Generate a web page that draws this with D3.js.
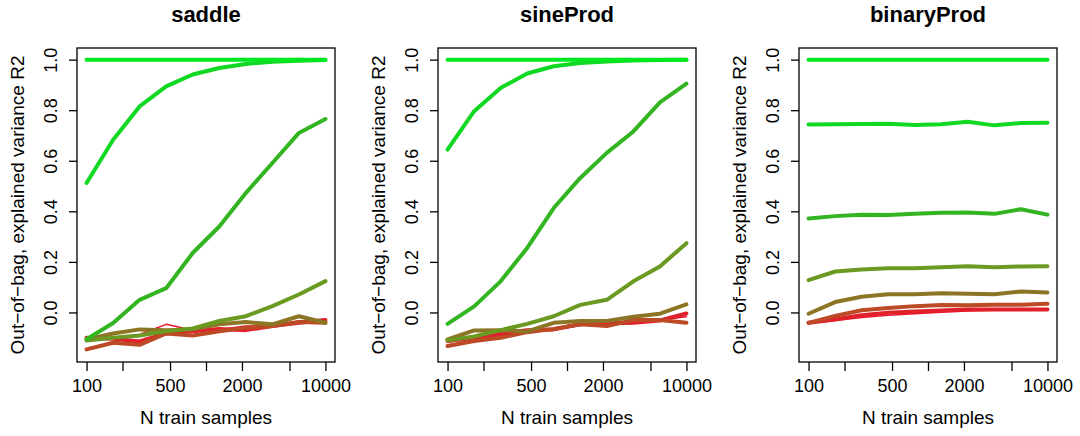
<!DOCTYPE html>
<html>
<head>
<meta charset="utf-8">
<style>
  body { margin: 0; background: #fff; }
  svg text { font-family: "Liberation Sans", Arial, Helvetica, sans-serif; fill: #000; }
</style>
</head>
<body>
<svg id="chart" width="1080" height="436"></svg>
<script src="https://cdnjs.cloudflare.com/ajax/libs/d3/7.8.5/d3.min.js"></script>
<script>
// training sizes: 10 log-spaced steps from 100 to 10000
const nSamples = [100, 167, 278, 464, 774, 1292, 2154, 3594, 5995, 10000];
const panelNames = ["saddle", "sineProd", "binaryProd"];
const yTicks = [0, 0.2, 0.4, 0.6, 0.8, 1.0];
const xTicks = [100, 200, 500, 1000, 2000, 5000, 10000];
const xLabels = [100, 500, 2000, 10000];

// series colours from red to green, in drawing order
const seriesColors = ["#ee1430", "#e0202a", "#bb4a25", "#8c7626", "#6a9a22", "#33b522", "#11d822", "#00e820"];
const seriesWidths = [1.5, 4, 4, 4, 4, 4, 4, 4];

const saddle = [
  [-0.100, -0.100, -0.087, -0.047, -0.070, -0.067, -0.054, -0.054, -0.034, -0.027],
  [-0.100, -0.104, -0.115, -0.083, -0.074, -0.065, -0.070, -0.054, -0.041, -0.030],
  [-0.146, -0.120, -0.128, -0.083, -0.091, -0.074, -0.061, -0.054, -0.038, -0.041],
  [-0.107, -0.083, -0.067, -0.070, -0.067, -0.047, -0.038, -0.047, -0.015, -0.041],
  [-0.111, -0.100, -0.091, -0.074, -0.063, -0.034, -0.015, 0.025, 0.071, 0.124],
  [-0.106, -0.042, 0.050, 0.096, 0.235, 0.340, 0.472, 0.591, 0.710, 0.765],
  [0.512, 0.683, 0.815, 0.894, 0.941, 0.967, 0.983, 0.992, 0.996, 0.999],
  [1.0, 1.0, 1.0, 1.0, 1.0, 1.0, 1.0, 1.0, 1.0, 1.0]
];
const sineProd = [
  [-0.117, -0.104, -0.091, -0.074, -0.070, -0.051, -0.047, -0.043, -0.030, -0.017],
  [-0.113, -0.100, -0.083, -0.070, -0.067, -0.047, -0.043, -0.041, -0.032, -0.004],
  [-0.133, -0.113, -0.100, -0.078, -0.065, -0.047, -0.054, -0.030, -0.030, -0.041],
  [-0.107, -0.071, -0.070, -0.075, -0.041, -0.034, -0.034, -0.017, -0.005, 0.032],
  [-0.111, -0.095, -0.070, -0.045, -0.015, 0.030, 0.050, 0.123, 0.182, 0.274],
  [-0.045, 0.024, 0.123, 0.255, 0.413, 0.532, 0.631, 0.716, 0.831, 0.905],
  [0.644, 0.796, 0.888, 0.945, 0.974, 0.987, 0.993, 0.997, 0.999, 1.0],
  [1.0, 1.0, 1.0, 1.0, 1.0, 1.0, 1.0, 1.0, 1.0, 1.0]
];
const binaryProd = [
  [-0.041, -0.032, -0.020, -0.011, -0.005, 0.001, 0.006, 0.009, 0.010, 0.011],
  [-0.041, -0.028, -0.011, -0.001, 0.004, 0.008, 0.012, 0.012, 0.012, 0.012],
  [-0.041, -0.014, 0.009, 0.018, 0.025, 0.029, 0.028, 0.030, 0.030, 0.034],
  [-0.005, 0.041, 0.062, 0.072, 0.072, 0.076, 0.074, 0.072, 0.083, 0.079],
  [0.128, 0.162, 0.170, 0.175, 0.175, 0.179, 0.183, 0.179, 0.182, 0.183],
  [0.372, 0.381, 0.386, 0.385, 0.390, 0.394, 0.395, 0.390, 0.408, 0.387],
  [0.743, 0.744, 0.745, 0.746, 0.741, 0.744, 0.754, 0.740, 0.749, 0.750],
  [1.0, 1.0, 1.0, 1.0, 1.0, 1.0, 1.0, 1.0, 1.0, 1.0]
];
const panelData = [saddle, sineProd, binaryProd];

const svg = d3.select("#chart");
const boxTop = 48, boxBottom = 362;

panelNames.forEach(function(name, i) {
  const left = 360 * i + 77 + i;
  const right = left + 258;
  const g = svg.append("g");

  // R-style 4% extension of the ranges
  const x = d3.scaleLog().domain([Math.pow(10, 1.92), Math.pow(10, 4.08)]).range([left, right]);
  const y = d3.scaleLinear().domain([-0.196, 1.046]).range([boxBottom, boxTop]);

  const line = d3.line().x((d, k) => x(nSamples[k])).y(d => y(d));

  g.selectAll("path.series")
    .data(panelData[i])
    .enter().append("path")
    .attr("class", "series")
    .attr("d", line)
    .attr("fill", "none")
    .attr("stroke", (d, k) => seriesColors[k])
    .attr("stroke-width", (d, k) => seriesWidths[k])
    .attr("stroke-linejoin", "round")
    .attr("stroke-linecap", "round");

  g.append("rect")
    .attr("x", left).attr("y", boxTop)
    .attr("width", right - left).attr("height", boxBottom - boxTop)
    .attr("fill", "none").attr("stroke", "#000").attr("stroke-width", 1.3);

  // x axis
  const xa = g.append("g").attr("transform", "translate(0," + boxBottom + ")")
    .call(d3.axisBottom(x).tickValues(xTicks).tickSize(9).tickFormat(d => xLabels.includes(d) ? d : ""));
  xa.select(".domain").remove();
  xa.selectAll("line").attr("stroke", "#000").attr("stroke-width", 1.3);
  xa.selectAll("text").attr("font-size", 18).attr("y", 17).attr("dy", "0.71em")
    .style("font-family", "'Liberation Sans', Arial, sans-serif");

  // y axis
  const ya = g.append("g").attr("transform", "translate(" + left + ",0)")
    .call(d3.axisLeft(y).tickValues(yTicks).tickSize(8).tickFormat(d3.format(".1f")));
  ya.select(".domain").remove();
  ya.selectAll("line").attr("stroke", "#000").attr("stroke-width", 1.3);
  ya.selectAll("text")
    .attr("x", null)
    .attr("font-size", 18)
    .attr("text-anchor", "middle")
    .attr("transform", "translate(-26,0) rotate(-90)")
    .attr("dy", "0.35em")
    .style("font-family", "'Liberation Sans', Arial, sans-serif");

  g.append("text")
    .attr("x", (left + right) / 2).attr("y", 22)
    .attr("text-anchor", "middle")
    .attr("font-size", 22).attr("font-weight", "bold")
    .text(name);

  g.append("text")
    .attr("x", (left + right) / 2).attr("y", 424)
    .attr("text-anchor", "middle")
    .attr("font-size", 19)
    .text("N train samples");

  g.append("text")
    .attr("transform", "translate(" + (left - 60) + "," + ((boxTop + boxBottom) / 2) + ") rotate(-90)")
    .attr("text-anchor", "middle")
    .attr("dy", "0.35em")
    .attr("font-size", 19)
    .text("Out\u2212of\u2212bag, explained variance R2");
});
</script>
</body>
</html>
